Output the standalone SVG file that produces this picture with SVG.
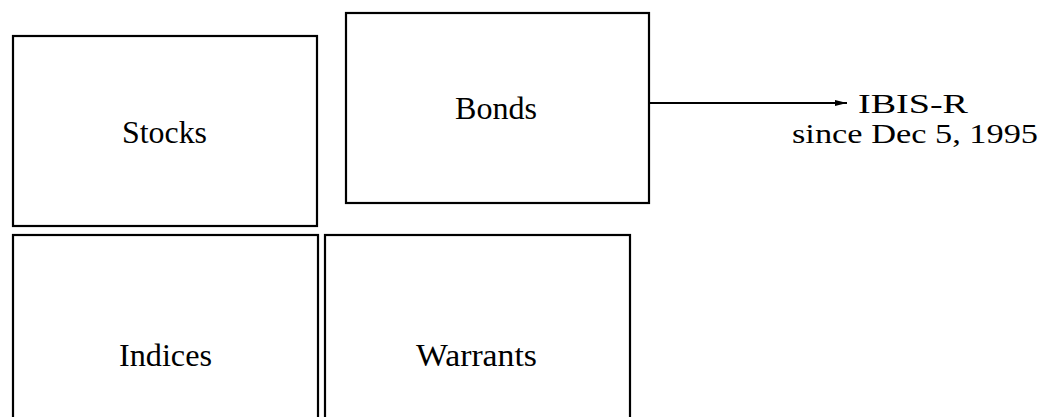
<svg xmlns="http://www.w3.org/2000/svg" width="1041" height="417" viewBox="0 0 1041 417">
<style>
.box{fill:#fff;stroke:#000;stroke-width:2.2}
.lbl{font-family:"Liberation Serif","DejaVu Serif",serif;font-size:31px;fill:#000}
.side{font-family:"Liberation Serif","DejaVu Serif",serif;font-size:27px;fill:#000}
.conn{stroke:#000;stroke-width:2;fill:none}
</style>
<defs>
<marker id="ah" viewBox="0 0 12 8" refX="12" refY="4" markerWidth="12" markerHeight="8" markerUnits="userSpaceOnUse" orient="auto">
<path d="M0,1 L12,4 L0,7 z" fill="#000"/>
</marker>
</defs>
<rect width="1041" height="417" fill="#fff"/>
<g id="stocks">
<rect class="box" x="13" y="36" width="304" height="190"/>
<text class="lbl" x="122" y="143" textLength="85" lengthAdjust="spacingAndGlyphs">Stocks</text>
</g>
<g id="bonds">
<rect class="box" x="346" y="13" width="303" height="190"/>
<text class="lbl" x="455" y="119" textLength="82" lengthAdjust="spacingAndGlyphs">Bonds</text>
</g>
<g id="indices">
<rect class="box" x="13" y="235" width="305" height="200"/>
<text class="lbl" x="119" y="366" textLength="93" lengthAdjust="spacingAndGlyphs">Indices</text>
</g>
<g id="warrants">
<rect class="box" x="325" y="235" width="305" height="200"/>
<text class="lbl" x="416" y="366" textLength="121" lengthAdjust="spacingAndGlyphs">Warrants</text>
</g>
<g id="ibis">
<text class="side" x="858" y="113" textLength="110" lengthAdjust="spacingAndGlyphs">IBIS-R</text>
<text class="side" x="792" y="143" textLength="246" lengthAdjust="spacingAndGlyphs">since Dec 5, 1995</text>
</g>
<g id="connectors">
<line class="conn" x1="649" y1="103" x2="847" y2="103" marker-end="url(#ah)"/>
</g>
</svg>
